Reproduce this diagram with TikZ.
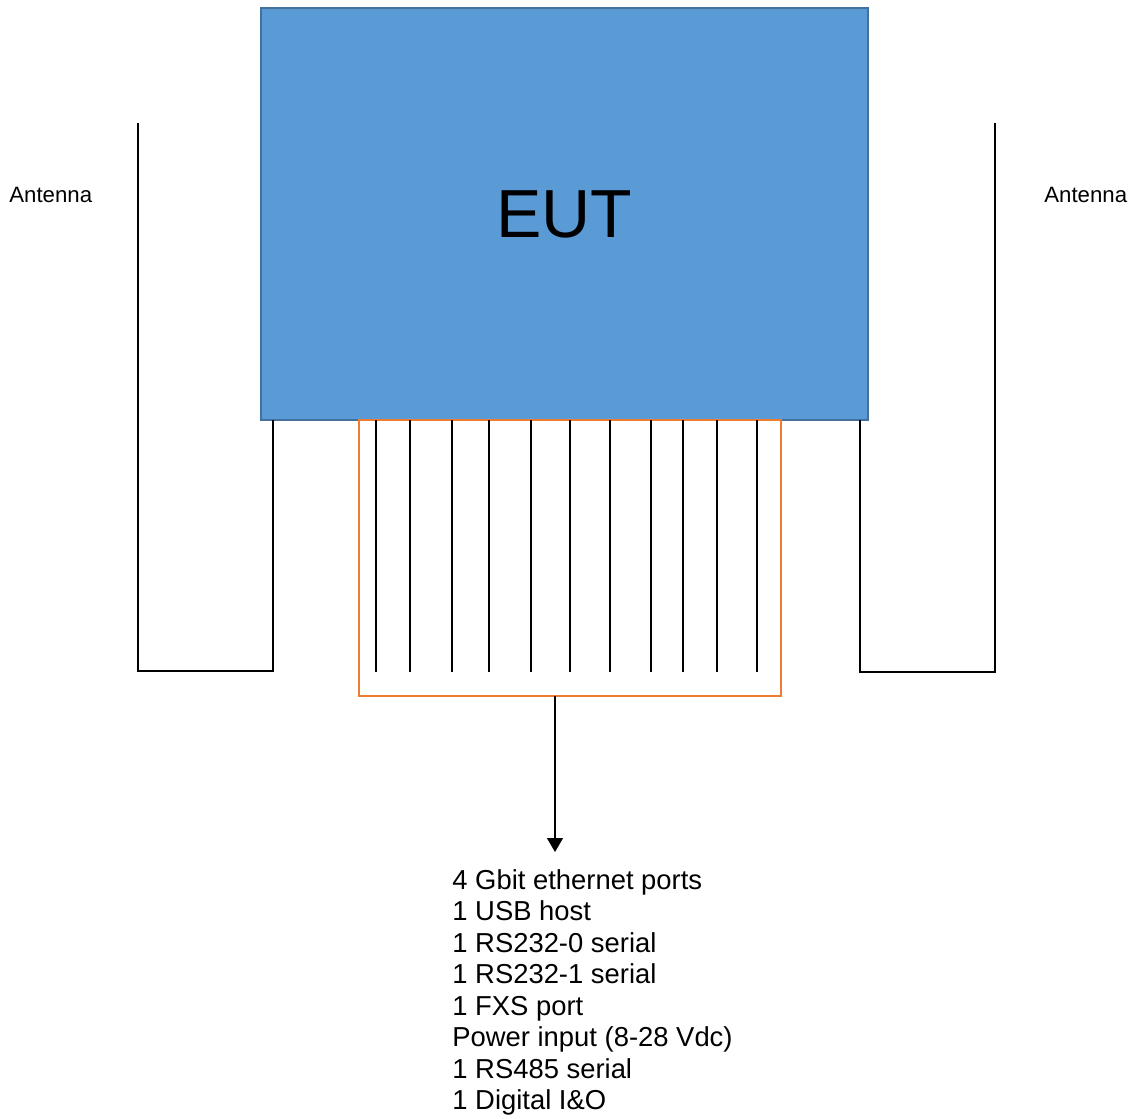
\documentclass[tikz,border=0pt]{standalone}
\usepackage{fontspec}
\setmainfont{Liberation Sans}
\usetikzlibrary{arrows.meta,positioning}
\definecolor{eutblue}{HTML}{5B9BD5}
\definecolor{eutedge}{HTML}{41719C}
\definecolor{portorange}{HTML}{ED7D31}
\tikzset{
    eut-box/.style = {draw=eutedge, fill=eutblue, line width=1pt, rectangle, inner sep=0pt, minimum width=303.5pt, minimum height=206pt, font=\fontsize{34}{40}\selectfont},
    port-box/.style = {draw=portorange, line width=1pt, rectangle, inner sep=0pt, minimum width=211pt, minimum height=138pt},
    port-line/.style = {draw=black, line width=1pt},
    antenna-line/.style = {draw=black, line width=1pt},
    antenna-label/.style = {inner sep=0pt, anchor=west, font=\fontsize{11.1}{13}\selectfont},
    port-list/.style = {inner sep=0pt, align=left, anchor=north west, font=\fontsize{13.7}{15.75}\selectfont},
    port-arrow/.style = {draw=black, line width=0.6pt, -{Triangle[width=8pt,length=7pt]}},
}
\begin{document}
\begin{tikzpicture}[x=0.5pt,y=-0.5pt]
\useasboundingbox (0,0) rectangle (1139,1118);
\node [eut-box] (eut) at (564.5,214) {EUT};
\node [port-box] (ports) at (570,558) {};
\foreach \x in {376,410,452,489,531,570,610,651,683,717,757}
    \draw [port-line] (\x,420) -- (\x,672);
% antennas
\draw [antenna-line] (138,123) -- (138,671) -- (273,671) -- (273,420);
\draw [antenna-line] (995,123) -- (995,672) -- (860,672) -- (860,420);
\node [antenna-label] (ant-left) at (9,195) {Antenna};
\node [antenna-label] (ant-right) at (1044,195) {Antenna};
% interfaces
\node [port-list] (portlist) at (452,869) {4 Gbit ethernet ports\\1 USB host\\1 RS232-0 serial\\1 RS232-1 serial\\1 FXS port\\Power input (8-28 Vdc)\\1 RS485 serial\\1 Digital I\&O};
\coordinate (arrow-top) at (555,696);
\coordinate (arrow-end) at (555,852);
\draw [port-arrow] (arrow-top) -- (arrow-end);
\end{tikzpicture}
\end{document}
